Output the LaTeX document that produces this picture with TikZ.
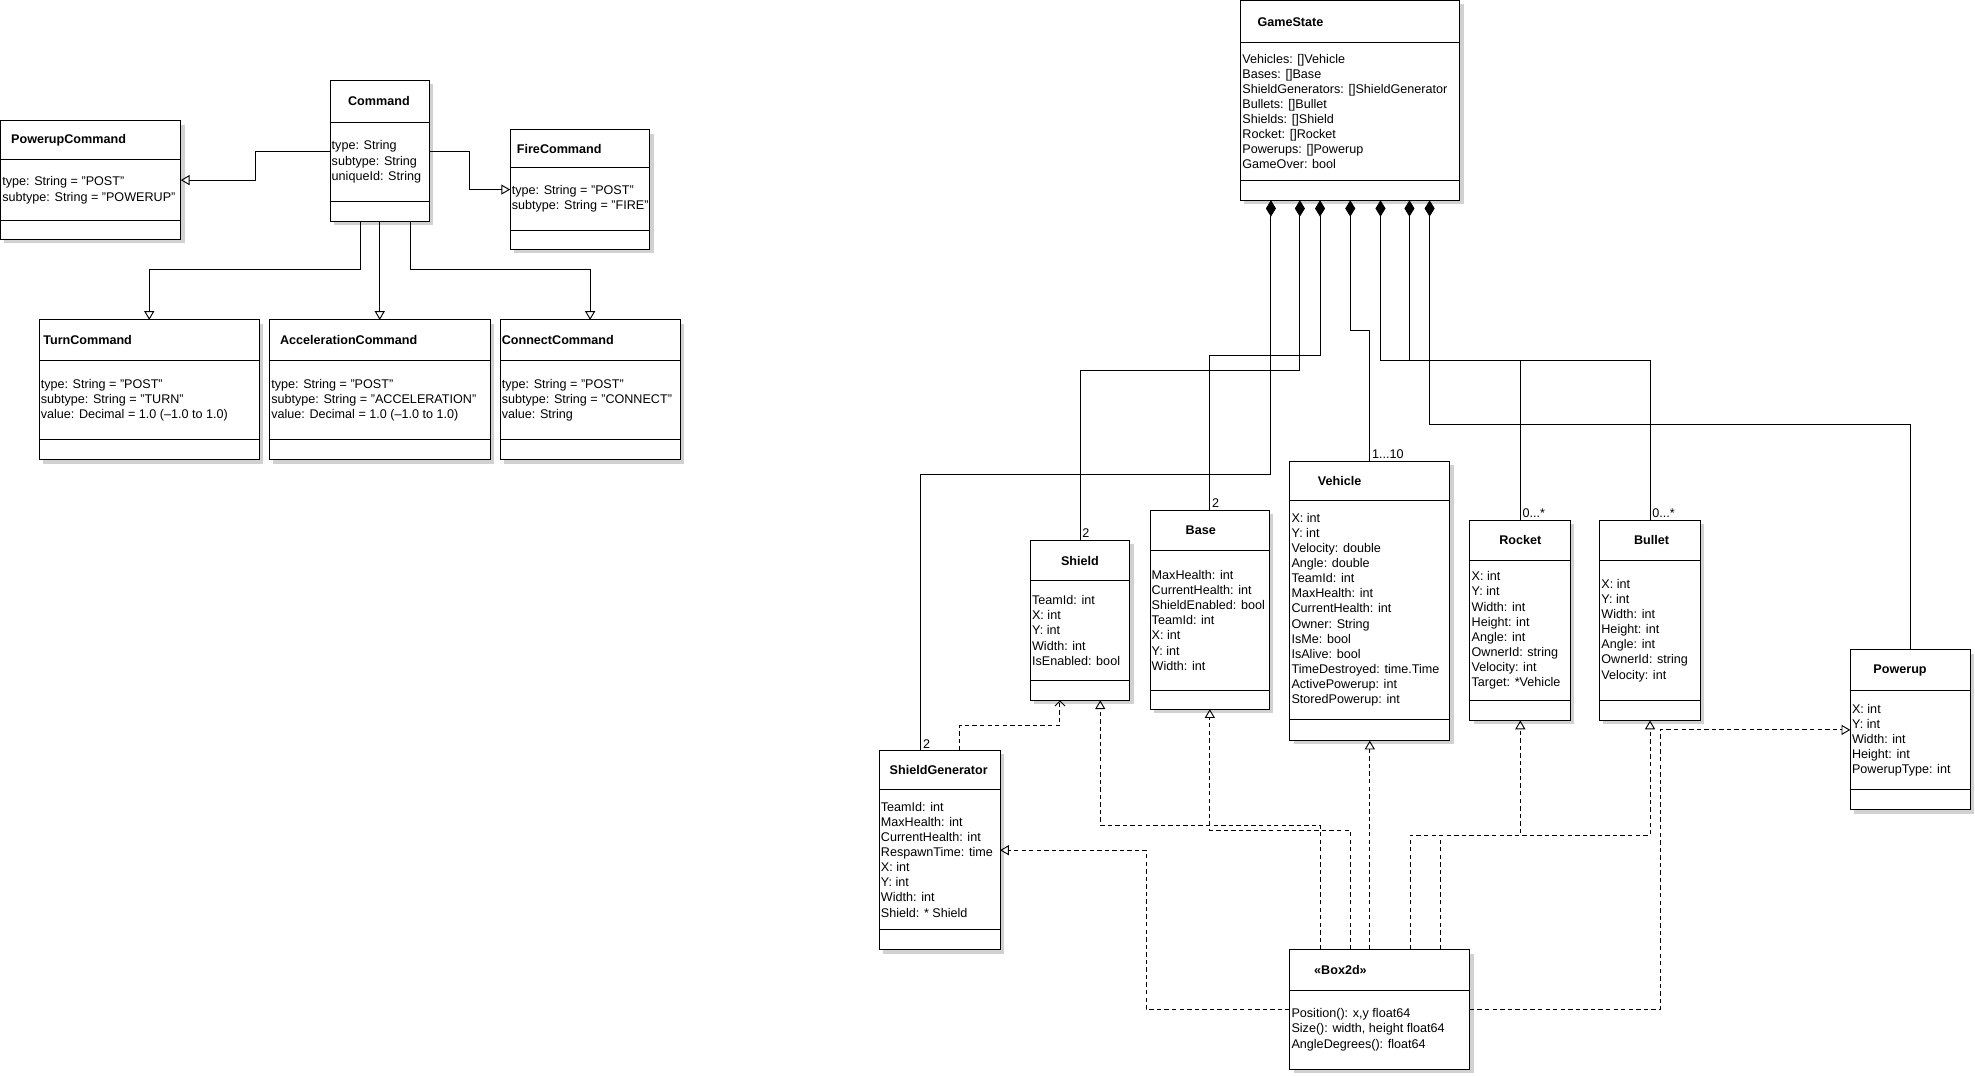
\documentclass[tikz,border=0pt]{standalone}
\usepackage{fontspec}
\setmainfont{Liberation Sans}
\usetikzlibrary{arrows.meta,shadows}

% name, x, y, width, height, first rule, second rule, title offset, attributes
\newcommand{\umlclass}[9]{%
  \node[cls, minimum width=#4pt, minimum height=#5pt] (#1) at (#2,#3) {};
  \draw (#2,#6) -- ++(#4,0) (#2,#7) -- ++(#4,0);
  \node[ttl] (#1-title) at ({#2+#8},{(#3+#6)/2}) {#1};
  \node[att] (#1-attr) at ({#2+1},{(#6+#7)/2}) {#9};
}

\begin{document}
\begin{tikzpicture}[x=1pt, y=-1pt, line width=0.75pt, font=\fontsize{10}{12}\selectfont]
\tikzstyle{cls} = [rectangle, draw = black, fill = white, anchor = north west, inner sep = 0pt, outer sep = 0pt,
  drop shadow = {shadow xshift = 3pt, shadow yshift = -3pt, fill = black!18, opacity = 1}]
\tikzstyle{ttl} = [anchor = west, inner sep = 0pt, font = \fontsize{10}{12}\selectfont\bfseries]
\tikzstyle{att} = [anchor = west, align = left, inner sep = 0pt]
\tikzstyle{mult} = [anchor = south west, inner sep = 1.5pt]
\tikzstyle{gen} = [-{Triangle[open, length = 7pt, width = 8pt]}]
\tikzstyle{comp} = [{Diamond[length = 13pt, width = 8pt]}-]
\tikzstyle{real} = [gen, dash pattern = on 3.5pt off 2.5pt]
\tikzstyle{dep} = [-{Straight Barb[length = 4pt, width = 8pt]}, dash pattern = on 3.5pt off 2.5pt]

\path[fill = white] (0,0) rectangle (1568,853.5);
\useasboundingbox (0,0) rectangle (1568,853.5);

% commands
\umlclass{PowerupCommand}{0.5}{96}{143}{94}{127}{175}{8}{type: String = "POST"\\subtype: String = "POWERUP"}
\umlclass{Command}{262}{64}{79}{112}{97}{160}{14}{type: String\\subtype: String\\uniqueId: String}
\umlclass{FireCommand}{405}{103}{111}{95}{133}{183}{5}{type: String = "POST"\\subtype: String = "FIRE"}
\umlclass{TurnCommand}{31}{254}{175}{111}{286}{349}{3}{type: String = "POST"\\subtype: String = "TURN"\\value: Decimal = 1.0 (--1.0 to 1.0)}
\umlclass{AccelerationCommand}{214}{254}{175}{111}{286}{349}{8}{type: String = "POST"\\subtype: String = "ACCELERATION"\\value: Decimal = 1.0 (--1.0 to 1.0)}
\umlclass{ConnectCommand}{397}{254}{143}{111}{286}{349}{1}{type: String = "POST"\\subtype: String = "CONNECT"\\value: String}

% game state
\umlclass{GameState}{985}{0.5}{174}{158.5}{34}{143}{13}{Vehicles: []Vehicle\\Bases: []Base\\ShieldGenerators: []ShieldGenerator\\Bullets: []Bullet\\Shields: []Shield\\Rocket: []Rocket\\Powerups: []Powerup\\GameOver: bool}
\umlclass{Shield}{818}{429}{79}{127}{461}{540}{24}{TeamId: int\\X: int\\Y: int\\Width: int\\IsEnabled: bool}
\umlclass{Base}{913}{405}{95}{158}{437}{548}{28}{MaxHealth: int\\CurrentHealth: int\\ShieldEnabled: bool\\TeamId: int\\X: int\\Y: int\\Width: int}
\umlclass{Vehicle}{1024}{366}{127}{222}{397}{571}{22}{X: int\\Y: int\\Velocity: double\\Angle: double\\TeamId: int\\MaxHealth: int\\CurrentHealth: int\\Owner: String\\IsMe: bool\\IsAlive: bool\\TimeDestroyed: time.Time\\ActivePowerup: int\\StoredPowerup: int}
\umlclass{Rocket}{1167}{413}{80}{159}{445}{556}{23}{X: int\\Y: int\\Width: int\\Height: int\\Angle: int\\OwnerId: string\\Velocity: int\\Target: *Vehicle}
\umlclass{Bullet}{1270}{413}{80}{159}{445}{556}{27}{X: int\\Y: int\\Width: int\\Height: int\\Angle: int\\OwnerId: string\\Velocity: int}
\umlclass{Powerup}{1469}{516}{95}{127}{548}{627}{18}{X: int\\Y: int\\Width: int\\Height: int\\PowerupType: int}
\umlclass{ShieldGenerator}{698}{596}{96}{158}{627}{738}{8}{TeamId: int\\MaxHealth: int\\CurrentHealth: int\\RespawnTime: time\\X: int\\Y: int\\Width: int\\Shield: * Shield}

\node[cls, minimum width = 143pt, minimum height = 95pt] (Box2d) at (1024,754) {};
\draw (1024,786) -- ++(143,0);
\node[ttl] (Box2d-title) at (1043,770) {«Box2d»};
\node[att] (Box2d-attr) at (1025,817.5) {Position(): x,y float64\\Size(): width, height float64\\AngleDegrees(): float64};

% generalisation
\draw[gen] (Command.west) -- ++(-59,0) |- (PowerupCommand.east);
\draw[gen] (Command.east) -- ++(32,0) |- (FireCommand.west);
\draw[gen] ([xshift=-15pt]Command.south) -- ++(0,38) -| (TurnCommand.north);
\draw[gen] (Command.south) -- (AccelerationCommand.north);
\draw[gen] ([xshift=24pt]Command.south) -- ++(0,38) -| (ConnectCommand.north);

% composition
\draw[comp] ([xshift=-63pt]GameState.south) -- ++(0,218) -| ([xshift=-15pt]ShieldGenerator.north);
\draw[comp] ([xshift=-40pt]GameState.south) -- ++(0,135) -| (Shield.north);
\draw[comp] ([xshift=-24pt]GameState.south) -- ++(0,123) -| (Base.north);
\draw[comp] (GameState.south) -- ++(0,103) -| (Vehicle.north);
\draw[comp] ([xshift=24pt]GameState.south) -- ++(0,127) -| (Rocket.north);
\draw[comp] ([xshift=47pt]GameState.south) -- ++(0,127) -| (Bullet.north);
\draw[comp] ([xshift=63pt]GameState.south) -- ++(0,178) -| (Powerup.north);
\node[mult] (m-sg) at ([xshift=-15pt]ShieldGenerator.north) {2};
\node[mult] (m-sh) at (Shield.north) {2};
\node[mult] (m-ba) at (Base.north) {2};
\node[mult] (m-ve) at (Vehicle.north) {1...10};
\node[mult] (m-ro) at (Rocket.north) {0...*};
\node[mult] (m-bu) at (Bullet.north) {0...*};

% box2d
\draw[real] (Box2d.west) -- ++(-114,0) |- (ShieldGenerator.east);
\draw[real] ([xshift=-47.5pt]Box2d.north) -- ++(0,-99) -| ([xshift=16pt]Shield.south);
\draw[real] ([xshift=-23.5pt]Box2d.north) -- ++(0,-95) -| (Base.south);
\draw[real] (Box2d.north -| Vehicle.south) -- (Vehicle.south);
\draw[real] ([xshift=24pt]Box2d.north) -- ++(0,-91) -| (Rocket.south);
\draw[real] ([xshift=48pt]Box2d.north) -- ++(0,-91) -| (Bullet.south);
\draw[real] (Box2d.east) -- ++(151,0) |- (Powerup.west);
\draw[dep] ([xshift=16pt]ShieldGenerator.north) -- ++(0,-20) -| ([xshift=-16pt]Shield.south);
\end{tikzpicture}
\end{document}
